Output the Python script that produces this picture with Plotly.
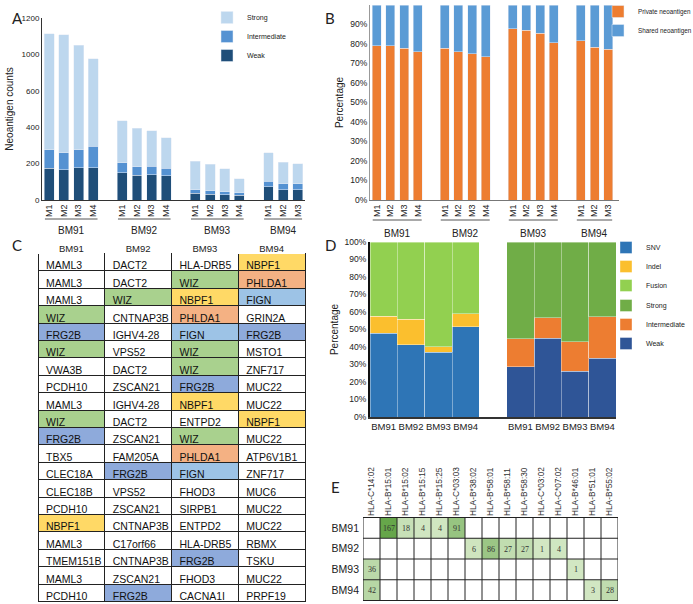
import plotly.graph_objects as go

W, H = 693, 604


def px_x(x):
    return x / W


def px_y(y):
    return 1 - y / H


# ---------------- data ----------------
groups = ["BM91", "BM92", "BM93", "BM94"]
members = [["M1", "M2", "M3", "M4"], ["M1", "M2", "M3", "M4"],
           ["M1", "M2", "M3", "M4"], ["M1", "M2", "M3"]]

# Panel A: neoantigen counts (stack: weak, intermediate, strong)
weak_counts = [210, 201, 212, 212, 179, 163, 165, 159, 45, 38, 34, 31, 87, 69, 69]
intermediate_counts = [123, 112, 121, 141, 65, 56, 58, 49, 22, 22, 22, 16, 36, 38, 38]
strong_counts = [762, 775, 688, 579, 279, 255, 235, 203, 188, 175, 150, 92, 190, 141, 132]
a_tick_labels = ["0", "200", "400", "600", "1000", "1200"]

# Panel B: private / shared neoantigen percentage
private_pct = [79.1, 79.1, 77.8, 76.1, 77.8, 76.1, 75.0, 73.5, 87.9, 87.0, 85.5, 80.7, 81.7, 78.3, 77.4]
shared_pct = [20.9, 20.9, 22.2, 23.9, 22.2, 23.9, 25.0, 26.5, 12.1, 13.0, 14.5, 19.3, 18.3, 21.7, 22.6]

# Panel C: table of genes
col_bm91 = ["MAML3", "MAML3", "MAML3", "WIZ", "FRG2B", "WIZ", "VWA3B", "PCDH10", "MAML3", "WIZ",
            "FRG2B", "TBX5", "CLEC18A", "CLEC18B", "PCDH10", "NBPF1", "MAML3", "TMEM151B", "MAML3", "PCDH10"]
col_bm92 = ["DACT2", "DACT2", "WIZ", "CNTNAP3B", "IGHV4-28", "VPS52", "DACT2", "ZSCAN21", "IGHV4-28", "DACT2",
            "ZSCAN21", "FAM205A", "FRG2B", "VPS52", "ZSCAN21", "CNTNAP3B", "C17orf66", "CNTNAP3B", "ZSCAN21", "FRG2B"]
col_bm93 = ["HLA-DRB5", "WIZ", "NBPF1", "PHLDA1", "FIGN", "WIZ", "WIZ", "FRG2B", "NBPF1", "ENTPD2",
            "WIZ", "PHLDA1", "FIGN", "FHOD3", "SIRPB1", "ENTPD2", "HLA-DRB5", "FRG2B", "FHOD3", "CACNA1I"]
col_bm94 = ["NBPF1", "PHLDA1", "FIGN", "GRIN2A", "FRG2B", "MSTO1", "ZNF717", "MUC22", "MUC22", "NBPF1",
            "MUC22", "ATP6V1B1", "ZNF717", "MUC6", "MUC22", "MUC22", "RBMX", "TSKU", "MUC22", "PRPF19"]
gene_colors = {"WIZ": "#a9d18e", "FRG2B": "#8eaadb", "FIGN": "#9dc3e6",
               "NBPF1": "#ffd966", "PHLDA1": "#f4b183"}

# Panel D: mutation type and binding strength percentages
snv_pct = [48.0, 41.3, 37.1, 51.6]
indel_pct = [9.7, 14.7, 3.1, 7.4]
fusion_pct = [42.3, 44.0, 59.8, 41.0]
weak_pct = [28.6, 45.1, 26.1, 33.7]
inter_pct = [16.0, 11.7, 16.8, 23.6]
strong_pct = [55.4, 43.2, 57.1, 42.7]

# Panel E: HLA allele counts
hla_alleles = ["HLA-C*14:02", "HLA-B*15:01", "HLA-B*15:02", "HLA-B*15:15", "HLA-B*15:25",
               "HLA-C*03:03", "HLA-B*38:02", "HLA-B*58:01", "HLA-B*58:11", "HLA-B*58:30",
               "HLA-C*03:02", "HLA-C*07:02", "HLA-B*46:01", "HLA-B*51:01", "HLA-B*55:02"]
hla_bm91 = [None, 167, 18, 4, 4, 91, None, None, None, None, None, None, None, None, None]
hla_bm92 = [None, None, None, None, None, None, 6, 86, 27, 27, 1, 4, None, None, None]
hla_bm93 = [36, None, None, None, None, None, None, None, None, None, None, None, 1, None, None]
hla_bm94 = [42, None, None, None, None, None, None, None, None, None, None, None, None, 3, 28]

# ---------------- figure ----------------
fig = go.Figure()

# slot positions for panels A and B (one empty slot between groups)
slot_x, slot_text = [], []
for g, mem in enumerate(members):
    for i, m in enumerate(mem):
        slot_x.append(5 * g + i)
        slot_text.append(m)

# Panel A
for name, vals, col in [("Weak", weak_counts, "#1f4e79"),
                        ("Intermediate", intermediate_counts, "#5592d2"),
                        ("Strong", strong_counts, "#bdd7ee")]:
    fig.add_trace(go.Bar(x=slot_x, y=vals, name=name, marker_color=col, width=0.68,
                         xaxis="x", yaxis="y", legend="legend"))

# Panel B
for name, vals, col in [("Private neoantigen", private_pct, "#ed7d31"),
                        ("Shared neoantigen", shared_pct, "#5b9bd5")]:
    fig.add_trace(go.Bar(x=slot_x, y=vals, name=name, marker_color=col, width=0.66,
                         xaxis="x2", yaxis="y2", legend="legend2"))

# Panel D
d_left = [0, 1, 2, 3]
d_right = [5, 6, 7, 8]
sep = dict(color="rgba(255,255,255,0.55)", width=0.7)
for name, vals, col in [("SNV", snv_pct, "#2e75b6"), ("Indel", indel_pct, "#fbbf2e"),
                        ("Fusion", fusion_pct, "#92d050")]:
    fig.add_trace(go.Bar(x=d_left, y=vals, name=name, marker=dict(color=col, line=sep), width=1.0,
                         xaxis="x3", yaxis="y3", legend="legend3"))
for name, vals, col in [("Weak", weak_pct, "#2f5597"), ("Intermediate", inter_pct, "#ed7d31"),
                        ("Strong", strong_pct, "#70ad47")]:
    fig.add_trace(go.Bar(x=d_right, y=vals, name=name, marker=dict(color=col, line=sep), width=1.0,
                         xaxis="x3", yaxis="y3", legend="legend4"))

# Panel C table
cols = [col_bm91, col_bm92, col_bm93, col_bm94]
fills = [[gene_colors.get(v, "white") for v in c] for c in cols]
fig.add_trace(go.Table(
    domain=dict(x=[px_x(38), px_x(305)], y=[0, px_y(236.5)]),
    columnwidth=[1, 1, 1, 1],
    header=dict(values=groups, fill_color="white", line=dict(color="white", width=0),
                font=dict(size=9.5, color="#222"), align="center", height=17),
    cells=dict(values=cols, fill_color=fills, line=dict(color="#222", width=1),
               font=dict(size=10.5, color="#111"), align="left", height=17.4),
))

# Panel E heatmap
z = [hla_bm91, hla_bm92, hla_bm93, hla_bm94]
text = [["" if v is None else str(v) for v in row] for row in z]
fig.add_trace(go.Heatmap(
    x=hla_alleles, y=groups, z=z, text=text, texttemplate="%{text}",
    textfont=dict(family="Liberation Serif, serif", size=8, color="#333"),
    colorscale=[[0, "#d2e7c3"], [1, "#66a64a"]], zmin=1, zmax=167,
    showscale=False, xaxis="x4", yaxis="y4", hoverinfo="skip"))

for i in range(len(hla_alleles) + 1):
    fig.add_shape(type="line", xref="x4", yref="y4", x0=i - 0.5, x1=i - 0.5,
                  y0=-0.5, y1=len(groups) - 0.5, line=dict(color="#222", width=1))
for j in range(len(groups) + 1):
    fig.add_shape(type="line", xref="x4", yref="y4", x0=-0.5, x1=len(hla_alleles) - 0.5,
                  y0=j - 0.5, y1=j - 0.5, line=dict(color="#222", width=1))

# group labels and underlines for panels A and B
annotations = []
for g, mem in enumerate(members):
    start, end = 5 * g, 5 * g + len(mem) - 1
    for xr, ylab, yline in [("x", 230, 219), ("x2", 233, 220)]:
        annotations.append(dict(x=(start + end) / 2, xref=xr, y=px_y(ylab), yref="paper",
                                text=groups[g], showarrow=False, font=dict(size=10, color="#222")))
        fig.add_shape(type="line", xref=xr, yref="paper", x0=start - 0.3, x1=end + 0.3,
                      y0=px_y(yline), y1=px_y(yline), line=dict(color="#555", width=1))

for letter, x, y in [("A", 10, 7), ("B", 330, 7), ("C", 10, 245), ("D", 330, 245), ("E", 335, 498)]:
    annotations.append(dict(x=px_x(x), y=px_y(y), xref="paper", yref="paper", text=letter,
                            showarrow=False, font=dict(family="Lato, sans-serif", size=15, color="#222")))

axis_common = dict(showgrid=False, zeroline=False, ticks="")
d_ticks = d_left + d_right

fig.update_layout(
    width=W, height=H,
    margin=dict(l=0, r=0, t=0, b=0, autoexpand=False),
    paper_bgcolor="white", plot_bgcolor="white",
    barmode="stack",
    font=dict(family="Liberation Sans, Arial, sans-serif", size=9, color="#222"),
    annotations=annotations,
    xaxis=dict(domain=[px_x(42), px_x(305)], anchor="y", range=[-0.5, 17.5],
               tickvals=slot_x, ticktext=slot_text, tickangle=-90, tickfont=dict(size=9),
               showline=True, linecolor="#333", linewidth=1, **axis_common),
    yaxis=dict(domain=[px_y(200), px_y(18)], anchor="x", range=[0, 1200],
               tickvals=[i * 240 for i in range(len(a_tick_labels))], ticktext=a_tick_labels,
               tickfont=dict(size=8), showline=True, linecolor="#333", linewidth=1,
               title=dict(text="Neoantigen counts", font=dict(size=10), standoff=6), **axis_common),
    xaxis2=dict(domain=[px_x(370), px_x(619)], anchor="y2", range=[-0.5, 17.8],
                tickvals=slot_x, ticktext=slot_text, tickangle=-90, tickfont=dict(size=9),
                showline=True, linecolor="#777", linewidth=1, **axis_common),
    yaxis2=dict(domain=[px_y(200), px_y(5)], anchor="x2", range=[0, 100], dtick=10, ticksuffix="%",
                tickfont=dict(size=8.5), showline=True, linecolor="#999", linewidth=1,
                title=dict(text="Percentage", font=dict(size=10), standoff=4), **axis_common),
    xaxis3=dict(domain=[px_x(370), px_x(616)], anchor="y3", range=[-0.5, 8.5],
                tickvals=d_ticks, ticktext=groups + groups, tickfont=dict(size=9.5), tickangle=0,
                showline=True, linecolor="#333", linewidth=1.5, **axis_common),
    yaxis3=dict(domain=[px_y(417), px_y(242)], anchor="x3", range=[0, 100], dtick=10, ticksuffix="%",
                tickfont=dict(size=8.5), showline=True, linecolor="#111", linewidth=2,
                title=dict(text="Percentage", font=dict(size=10), standoff=4), **axis_common),
    xaxis4=dict(domain=[px_x(363), px_x(618)], anchor="y4", side="top", tickangle=-90,
                tickfont=dict(size=8.3, color="#333"), range=[-0.5, len(hla_alleles) - 0.5], **axis_common),
    yaxis4=dict(domain=[px_y(601), px_y(517)], anchor="x4", autorange="reversed",
                tickfont=dict(size=10.5), ticklabelstandoff=3, **axis_common),
    legend=dict(x=px_x(207), y=px_y(3), xanchor="left", yanchor="top", traceorder="reversed",
                font=dict(size=7), bgcolor="rgba(0,0,0,0)"),
    legend2=dict(x=px_x(598), y=px_y(-3), xanchor="left", yanchor="top", traceorder="normal",
                 font=dict(size=6.3), bgcolor="rgba(0,0,0,0)"),
    legend3=dict(x=px_x(606), y=px_y(233), xanchor="left", yanchor="top", traceorder="normal",
                 font=dict(size=7), bgcolor="rgba(0,0,0,0)"),
    legend4=dict(x=px_x(606), y=px_y(291), xanchor="left", yanchor="top", traceorder="reversed",
                 font=dict(size=7), bgcolor="rgba(0,0,0,0)"),
)

fig.write_html("out.html", config={"displayModeBar": False},
               post_script="document.body.style.margin='0';")
